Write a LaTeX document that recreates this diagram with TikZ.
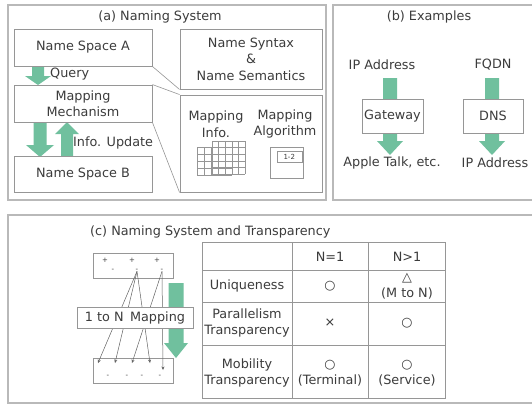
\documentclass[tikz,border=0pt]{standalone}
\usepackage{fontspec}
\setmainfont{DejaVu Sans}
\usetikzlibrary{arrows.meta}
\definecolor{gfill}{RGB}{112,192,158}
\definecolor{lineg}{RGB}{150,150,150}
\definecolor{panelg}{RGB}{185,185,185}
\definecolor{txt}{RGB}{60,60,60}
% down arrow: x, ytop, ybot, half shaft, half head, head length
\newcommand\gdown[6]{\fill[gfill] (#1-#4,#2) -- (#1+#4,#2) -- (#1+#4,#3-#6) -- (#1+#5,#3-#6) -- (#1,#3) -- (#1-#5,#3-#6) -- (#1-#4,#3-#6) -- cycle;}
\newcommand\gup[6]{\fill[gfill] (#1-#4,#3) -- (#1+#4,#3) -- (#1+#4,#2+#6) -- (#1+#5,#2+#6) -- (#1,#2) -- (#1-#5,#2+#6) -- (#1-#4,#2+#6) -- cycle;}
\begin{document}
\begin{tikzpicture}[x=1pt,y=-1pt,
  every node/.style={text=txt,font=\fontsize{12.8pt}{16.5pt}\selectfont,inner sep=0pt},
  panel/.style={draw=panelg,line width=1.6pt},
  box/.style={draw=lineg,line width=0.9pt,fill=white},
  thin/.style={draw=lineg,line width=0.6pt},
  gridl/.style={draw=lineg,line width=0.5pt},
  small/.style={font=\fontsize{7pt}{8pt}\selectfont},
  maparrow/.style={draw=txt!80,line width=0.5pt,-{Stealth[length=3.5pt,width=3pt]}},
  tline/.style={draw=lineg,line width=1pt}]
\useasboundingbox (0,0) rectangle (532,405);
\fill[white] (0,0) rectangle (532,405);
\clip (0,0) rectangle (532,405);
% panels
\draw[panel] (8,5) rectangle (326,200);
\draw[panel] (333,5) rectangle (545,200);
\draw[panel] (8,215) rectangle (545,403);
% ---------- (a) ----------
\node (ta) at (160,17) {(a) Naming System};
\gdown{38}{66}{85}{6}{13}{9}
\gdown{40}{122}{157}{6.5}{14}{12}
\gup{67}{122}{157}{6}{12}{12}
\node[box,minimum width=138pt,minimum height=37pt] (nsA) at (83,47.5) {Name Space A};
\node[box,minimum width=142pt,minimum height=60pt,align=center] (syn) at (251,59) {Name Syntax\\\&\\Name Semantics};
\node[box,minimum width=138pt,minimum height=37pt,align=center] (mech) at (83,103.5) {Mapping\\Mechanism};
\node[box,minimum width=138pt,minimum height=36pt] (nsB) at (83,174.5) {Name Space B};
\node[box,minimum width=142pt,minimum height=97pt] (mbox) at (251,143.5) {};
\node[anchor=west] (query) at (50,74) {Query};
\node[anchor=west] (upd) at (73,143) {Info. Update};
\draw[thin] (nsA.south east) -- (syn.south west);
\draw[thin] (mech.north east) -- (mbox.north west);
\draw[thin] (mech.south east) -- (mbox.south west);
\node[align=center] (minfo) at (216,124) {Mapping\\Info.};
\node[align=center] (malg) at (285,124) {Mapping\\Algorithm};
% grids
\foreach \gx in {197,204,211,218,225,232} \draw[gridl] (\gx,147) -- (\gx,175);
\foreach \gy in {147,154,161,168,175} \draw[gridl] (197,\gy) -- (232,\gy);
\foreach \k in {0,...,5} \draw[gridl] (212+6.6*\k,141) -- (212+6.6*\k,174);
\foreach \k in {0,...,5} \draw[gridl] (212,141+6.6*\k) -- (245,141+6.6*\k);
\node[draw=lineg,line width=0.6pt,minimum width=33pt,minimum height=31pt] (algbox) at (286.5,162.5) {};
\node[draw=lineg,line width=0.5pt,small,minimum width=25pt,minimum height=11pt,anchor=north east] (algin) at (302,151) {1-2};
% ---------- (b) ----------
\node (tb) at (429,17) {(b) Examples};
\node (ip1) at (382,65) {IP Address};
\node (fq) at (493,65) {FQDN};
\gdown{390}{78}{155}{7}{13}{14}
\gdown{492}{78}{155}{7}{13}{14}
\node[box,minimum width=61pt,minimum height=34pt] (gw) at (392.5,116) {Gateway};
\node[box,minimum width=60pt,minimum height=34pt] (dns) at (493,116) {DNS};
\node (apple) at (392,163) {Apple Talk, etc.};
\node (ip2) at (495,163) {IP Address};
% ---------- (c) ----------
\node[anchor=west] (tc) at (90,232) {(c) Naming System and Transparency};
\gdown{176}{283}{358}{7.5}{12}{15}
\node[box,minimum width=80pt,minimum height=25pt] (top) at (133,265.5) {};
\node[small] (p1) at (105,260) {+};
\node[small] (p2) at (132,260) {+};
\node[small] (p3) at (157,260) {+};
\node[small] (m1) at (113,270) {-};
\node[small] (m2) at (137,270) {-};
\node[small] (m3) at (162,270) {-};
\node[box,minimum width=80pt,minimum height=25pt] (bot) at (133,370.5) {};
\coordinate (b1) at (98,363);
\coordinate (b2) at (115,363);
\coordinate (b3) at (132,363);
\coordinate (b4) at (150,363);
\coordinate (b5) at (163,370);
\node[small] (q1) at (108,376) {-};
\node[small] (q2) at (127,376) {-};
\node[small] (q3) at (142,376) {-};
\node[small] (q4) at (160,376) {-};
\draw[maparrow] (m2.south) -- (b1);
\draw[maparrow] (m2.south) -- (b2);
\draw[maparrow] (m2.south) -- (b4);
\draw[maparrow] (m3.south) -- (b3);
\draw[maparrow] (m3.south) -- (b5);
\node[box,minimum width=116pt,minimum height=21pt] (map) at (135,317.5) {1 to N\enspace Mapping};
% table
\draw[tline] (202,242) rectangle (445,398);
\draw[tline] (292,242) -- (292,398);
\draw[tline] (368,242) -- (368,398);
\draw[tline] (202,270) -- (445,270);
\draw[tline] (202,302) -- (445,302);
\draw[tline] (202,345) -- (445,345);
\node (h1) at (330,257) {N=1};
\node (h2) at (407,257) {N>1};
\node (r1) at (247,286) {Uniqueness};
\node (r1a) at (330,286) {○};
\node[align=center] (r1b) at (407,286) {△\\(M to N)};
\node[align=center] (r2) at (247,323) {Parallelism\\Transparency};
\node (r2a) at (330,323) {×};
\node (r2b) at (407,323) {○};
\node[align=center] (r3) at (247,373) {Mobility\\Transparency};
\node[align=center] (r3a) at (330,373) {○\\(Terminal)};
\node[align=center] (r3b) at (407,373) {○\\(Service)};
\end{tikzpicture}
\end{document}
